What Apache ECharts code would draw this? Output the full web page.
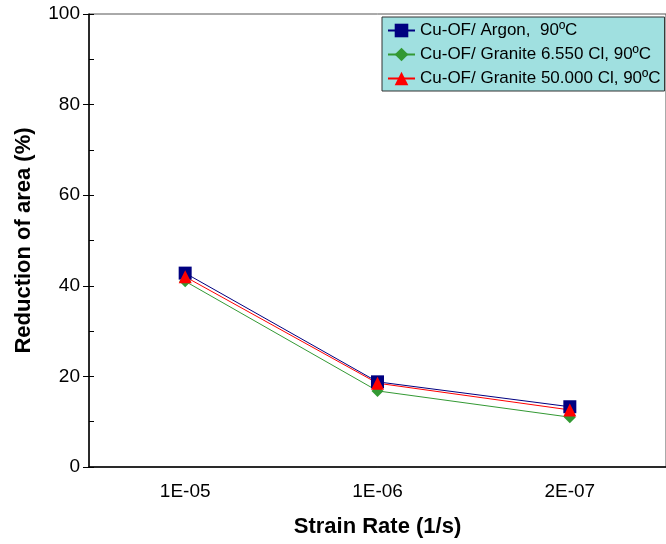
<!DOCTYPE html>
<html><head><meta charset="utf-8">
<script src="https://cdn.jsdelivr.net/npm/echarts@6/dist/echarts.min.js"></script>
<style>html,body{margin:0;padding:0;background:#fff}#c{width:666px;height:544px}</style>
</head><body><div id="c"></div>
<script>
const categories = ['1E-05', '1E-06', '2E-07'];
const argon = [42.8, 18.8, 13.3];
const granite6550 = [41.0, 16.8, 11.0];
const granite50000 = [42.0, 18.5, 12.6];
const seriesNames = ['Cu-OF/ Argon,  90ºC', 'Cu-OF/ Granite 6.550 Cl, 90ºC', 'Cu-OF/ Granite 50.000 Cl, 90ºC'];

const font = 'Arial, "Liberation Sans", sans-serif';
const chart = echarts.init(document.getElementById('c'), null, {renderer: 'canvas'});
chart.setOption({
  animation: false,
  backgroundColor: '#fff',
  grid: {left: 89, right: -2, top: 14, bottom: 77, show: true, borderColor: '#555', borderWidth: 1, backgroundColor: 'transparent'},
  legend: {
    left: 382, top: 17, orient: 'vertical',
    backgroundColor: '#a0e0e0', borderColor: '#333', borderWidth: 1,
    padding: [5, 4, 4, 5], itemGap: 7, itemWidth: 27, itemHeight: 17,
    textStyle: {fontFamily: font, fontSize: 17, color: '#000'},
    data: seriesNames
  },
  xAxis: [{
    type: 'category', data: categories, boundaryGap: true,
    axisLine: {lineStyle: {color: '#000', width: 1.5}},
    axisTick: {alignWithLabel: true, inside: false, length: 5, lineStyle: {color: '#000'}},
    axisLabel: {fontFamily: font, fontSize: 19, color: '#000', margin: 15},
    name: 'Strain Rate (1/s)', nameLocation: 'middle', nameGap: 49,
    nameTextStyle: {fontFamily: font, fontSize: 22, fontWeight: 'bold', color: '#000'},
    splitLine: {show: false}
  }, {
    type: 'category', data: categories, boundaryGap: true, position: 'bottom',
    axisLine: {show: false},
    axisTick: {inside: true, length: 5, lineStyle: {color: '#000'}},
    axisLabel: {show: false}, splitLine: {show: false}
  }],
  yAxis: [{
    type: 'value', min: 0, max: 100, interval: 20,
    axisLine: {show: true, lineStyle: {color: '#000', width: 1.5}},
    axisTick: {show: true, length: 6, lineStyle: {color: '#000'}},
    axisLabel: {fontFamily: font, fontSize: 19, color: '#000', margin: 9},
    splitLine: {show: false},
    name: 'Reduction of area (%)', nameLocation: 'middle', nameGap: 54,
    nameTextStyle: {fontFamily: font, fontSize: 22, fontWeight: 'bold', color: '#000'}
  }, {
    type: 'value', min: 0, max: 100, interval: 10, position: 'left', offset: 0,
    axisLine: {show: false},
    axisTick: {show: true, inside: true, length: 5, lineStyle: {color: '#000'}},
    axisLabel: {show: false}, splitLine: {show: false}
  }],
  series: [{
    name: seriesNames[0], type: 'line', data: argon,
    symbol: 'rect', symbolSize: 13,
    lineStyle: {color: '#000080', width: 1}, itemStyle: {color: '#000080'}
  }, {
    name: seriesNames[1], type: 'line', data: granite6550,
    symbol: 'diamond', symbolSize: 12,
    lineStyle: {color: '#339933', width: 1}, itemStyle: {color: '#339933'}
  }, {
    name: seriesNames[2], type: 'line', data: granite50000,
    symbol: 'triangle', symbolSize: 13,
    lineStyle: {color: '#ff0000', width: 1}, itemStyle: {color: '#ff0000'}
  }]
});
</script></body></html>
